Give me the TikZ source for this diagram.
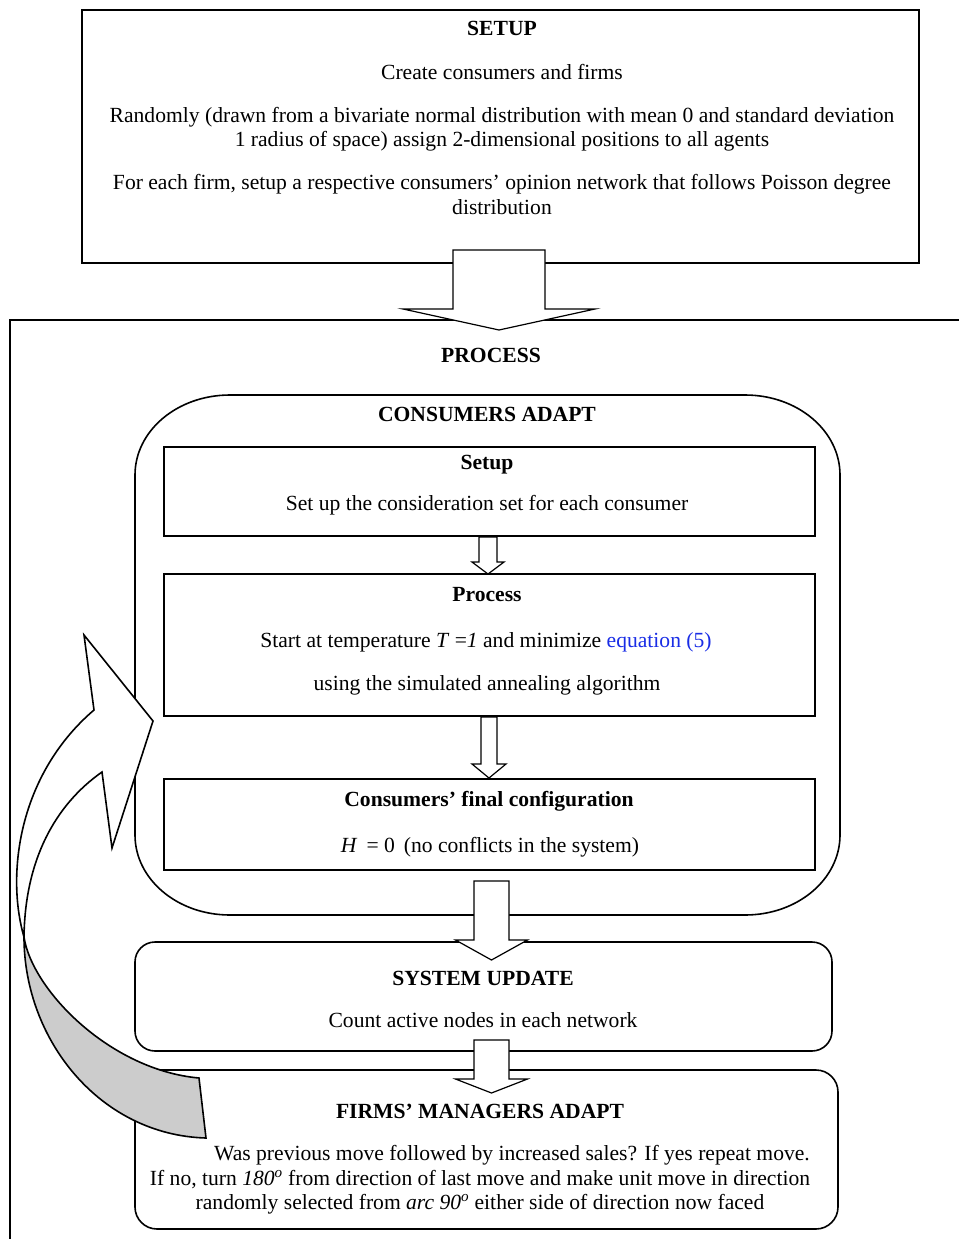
\documentclass[tikz,border=0pt]{standalone}
\usepackage{fontspec}
\setmainfont{Liberation Serif}
\usetikzlibrary{calc}
\definecolor{linkblue}{RGB}{25,45,230}
\definecolor{tailgrey}{RGB}{204,204,204}
\tikzset{
  txt/.style={inner sep=0pt, anchor=base, font=\fontsize{21.6}{24}\selectfont},
  ttl/.style={inner sep=0pt, anchor=base, font=\fontsize{21.6}{24}\selectfont\bfseries},
  thinbox/.style={draw, line width=1.2pt, inner sep=0pt, rectangle},
  midbox/.style={draw, line width=1.6pt, inner sep=0pt, rectangle},
  thickbox/.style={draw, line width=2.2pt, inner sep=0pt, rectangle},
  blkarrow/.style={draw, fill=white, line width=1.2pt, line join=miter},
  bentarrow/.style={draw, line width=1.6pt, line join=miter},
}
\newcommand{\BlkArrow}[6]{%
  \draw[blkarrow] (#1-#5,#2) -- (#1+#5,#2) -- (#1+#5,#3) -- (#1+#6,#3) -- (#1,#4)
    -- (#1-#6,#3) -- (#1-#5,#3) -- cycle;}
\begin{document}
\begin{tikzpicture}[x=1pt,y=-1pt]
\useasboundingbox (0,0) rectangle (959,1239);
\fill[white] (0,0) rectangle (959,1239);

% SETUP box
\node[thinbox, minimum width=837pt, minimum height=253pt] (setupbox) at (500.5,136.5) {};
\node[ttl] (s0) at (502,36) {SETUP};
\node[txt] (s1) at (502,79) {Create consumers and firms};
\node[txt] (s2) at (502,122) {Randomly (drawn from a bivariate normal distribution with mean 0 and standard deviation};
\node[txt] (s3) at (502,146) {1 radius of space) assign 2-dimensional positions to all agents};
\node[txt] (s4) at (502,189) {For each firm, setup a respective consumers’ opinion network that follows Poisson degree};
\node[txt] (s5) at (502,214) {distribution};

% PROCESS outer frame (open at right and bottom)
\coordinate (pframeTL) at (10,320);
\draw[line width=1.2pt] (10,1239) -- (pframeTL) -- (959,320);
\node[ttl] (p0) at (491,362) {PROCESS};

% CONSUMERS ADAPT box with elliptical corners
\coordinate (caTL) at (135,395);
\draw[line width=1.6pt] (135,475) .. controls (135,431) and (177,395) .. (230,395)
  -- (745,395) .. controls (798,395) and (840,431) .. (840,475)
  -- (840,835) .. controls (840,879) and (798,915) .. (745,915)
  -- (230,915) .. controls (177,915) and (135,879) .. (135,835) -- cycle;
\node[ttl] (c0) at (487,421) {CONSUMERS ADAPT};

% inner boxes
\node[thickbox, minimum width=651pt, minimum height=89pt] (innersetup) at (489.5,491.5) {};
\node[ttl] (i0) at (487,469) {Setup};
\node[txt] (i1) at (487,510) {Set up the consideration set for each consumer};

\node[thickbox, minimum width=651pt, minimum height=142pt] (innerproc) at (489.5,645) {};
\node[ttl] (j0) at (487,601) {Process};
\node[txt] (j1) at (486,647) {Start at temperature \textit{T} =\textit{1} and minimize \textcolor{linkblue}{equation (5)}};
\node[txt] (j2) at (487,690) {using the simulated annealing algorithm};

\node[thickbox, minimum width=651pt, minimum height=91pt] (innerfinal) at (489.5,824.5) {};
\node[ttl] (k0) at (489,806) {Consumers’ final configuration};
\node[txt] (k1) at (490,852) {\textit{H} \,= 0\, (no conflicts in the system)};

% SYSTEM UPDATE
\node[midbox, rounded corners=20pt, minimum width=697pt, minimum height=109pt] (sysupd) at (483.5,996.5) {};
\node[ttl] (u0) at (483,985) {SYSTEM UPDATE};
\node[txt] (u1) at (483,1027) {Count active nodes in each network};

% FIRMS' MANAGERS ADAPT
\node[midbox, rounded corners=22pt, minimum width=703pt, minimum height=159pt] (firms) at (486.5,1149.5) {};
\node[ttl] (f0) at (480,1118) {FIRMS’ MANAGERS ADAPT};
\node[txt, anchor=base east] (f1) at (810,1160) {Was previous move followed by increased sales? If yes repeat move.};
\node[txt] (f2) at (480,1185) {If no, turn \textit{180\textsuperscript{o}} from direction of last move and make unit move in direction};
\node[txt] (f3) at (480,1209) {randomly selected from \textit{arc 90\textsuperscript{o}} either side of direction now faced};

% block arrows
\BlkArrow{499}{250}{309}{330}{46}{96}
\BlkArrow{488}{537}{562}{574}{9}{16}
\BlkArrow{489}{717}{764}{778}{8}{17}
\BlkArrow{491.5}{881}{940}{960}{17.5}{36}
\BlkArrow{491.5}{1040}{1079}{1093}{17.5}{36}

% curved feedback arrow: grey (twisted) tail part
\coordinate (cross) at (24,937);
\fill[tailgrey] (cross) .. controls (32,990) and (110,1070) .. (199,1078)
  -- (206,1138) .. controls (100,1135) and (24,1040) .. (cross) -- cycle;
\draw[bentarrow] (cross) .. controls (32,990) and (110,1070) .. (199,1078)
  -- (206,1138) .. controls (100,1135) and (24,1040) .. (cross);
% white front part with the head
\filldraw[bentarrow, fill=white] (94,710) -- (84,635) -- (153,721) -- (112,848) -- (102,772)
  .. controls (55,805) and (25,860) .. (cross)
  .. controls (6,875) and (18,775) .. (94,710) -- cycle;
\end{tikzpicture}
\end{document}
